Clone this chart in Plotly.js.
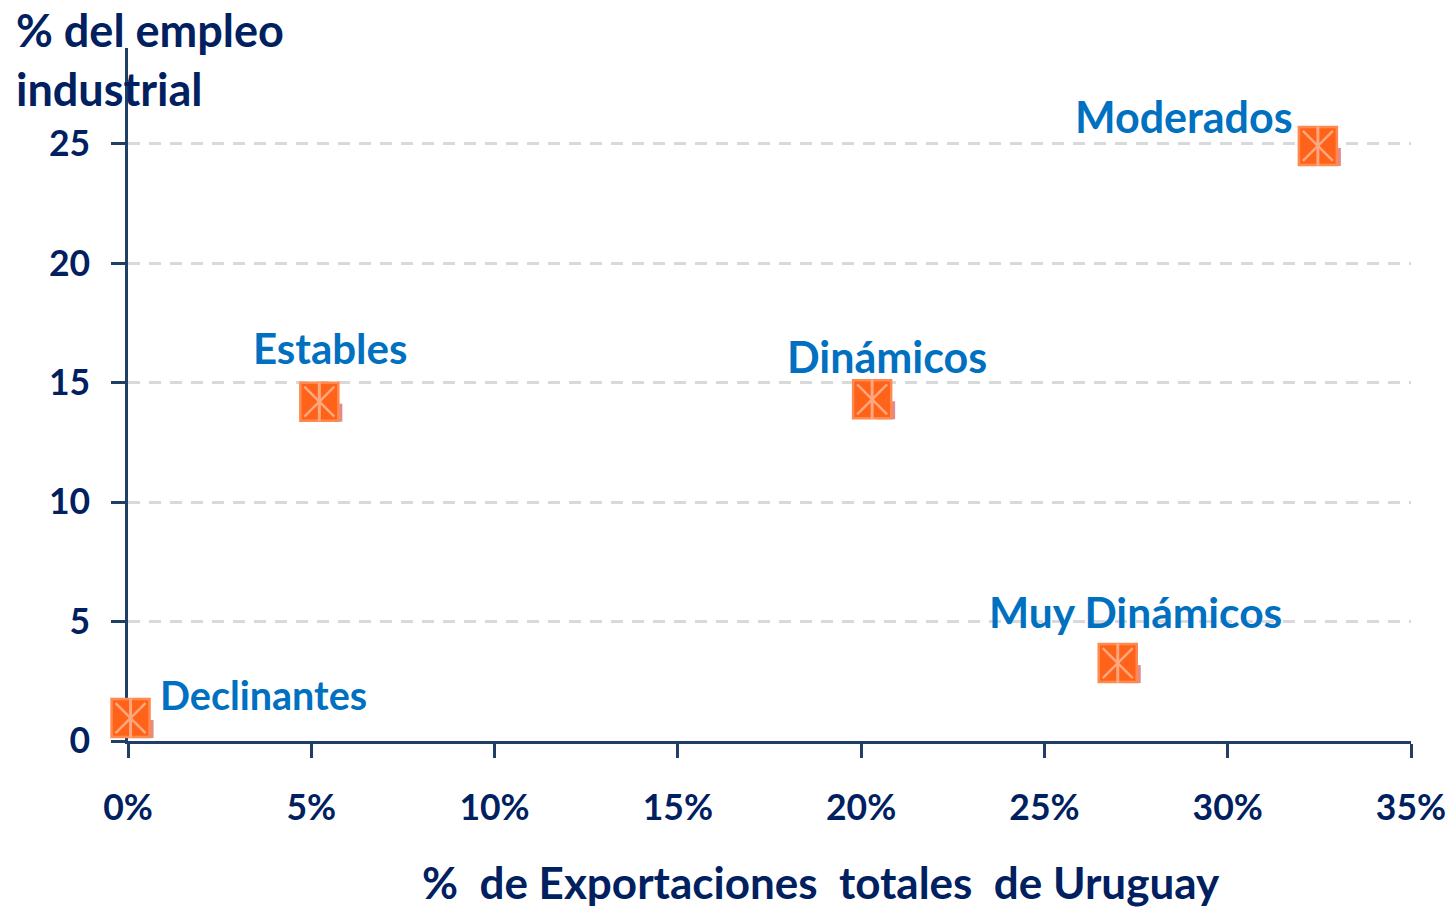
<!DOCTYPE html>
<html><head><meta charset="utf-8">
<script src="https://cdn.plot.ly/plotly-3.0.1.min.js"></script>
<style>html,body{margin:0;padding:0;background:#fff}</style></head>
<body><div id="chart" style="width:1450px;height:907px"></div>
<script>
const categories=["Moderados","Estables","Dinámicos","Muy Dinámicos","Declinantes"];
const exportShare=[32.46,5.22,20.3,27.0,0.07];
const employmentShare=[24.9,14.2,14.3,3.26,0.96];
const xTickVals=[0,5,10,15,20,25,30,35];
const xTickText=["0%","5%","10%","15%","20%","25%","30%","35%"];
const yTickVals=[0,5,10,15,20,25];
const labelShiftX=[-134,11,15,18,133];
const labelShiftY=[29,54,43,52,24];
const labelSize=[43,42,43,42.5,39.5];

const navy="#002060",blue="#0070C0",axisCol="#1F3F66";
const font="Lato, Carlito, 'Open Sans', sans-serif";
const xRange=[0,35],yRange=[0,29];
const pxX=36.67,pxY=23.9;

function mk(xa,ya,symbol,size,color,lineW,lineCol){
  return {type:"scatter",mode:"markers",x:exportShare,y:employmentShare,xaxis:xa,yaxis:ya,
    cliponaxis:false,hoverinfo:"skip",showlegend:false,
    marker:{symbol:symbol,size:size,color:color,line:{width:lineW,color:lineCol}}};
}
const traces=[
  mk("x","y","square",1,"rgba(0,0,0,0)",0,"rgba(0,0,0,0)"),
  mk("x2","y2","square",18,"#E58A8A",0,"#E58A8A"),
  mk("x3","y3","square",38,"#FF6319",2.5,"#FF8A50"),
  mk("x3","y3","line-ns-open",28,"#FFA77E",3,"#FFA77E"),
  mk("x3","y3","x-thin-open",30,"#FFA77E",2.5,"#FFA77E")
];
const hidden={visible:false,overlaying:"x",fixedrange:true};
const layout={
  width:1450,height:907,autosize:false,paper_bgcolor:"#fff",plot_bgcolor:"#fff",
  margin:{l:128,r:39,t:48,b:166},showlegend:false,
  font:{family:font,color:navy},
  xaxis:{range:xRange,tickvals:xTickVals,ticktext:xTickText,tickmode:"array",ticks:"outside",ticklen:14,tickwidth:2.5,
    tickcolor:axisCol,showline:true,linecolor:axisCol,linewidth:2.5,showgrid:false,zeroline:false,layer:"below traces",
    tickfont:{family:font,size:35.5,color:navy,weight:700},ticklabelstandoff:20},
  yaxis:{range:yRange,tickvals:yTickVals,tickmode:"array",ticks:"outside",ticklen:14,tickwidth:2.5,
    tickcolor:axisCol,showline:true,linecolor:axisCol,linewidth:2.5,showgrid:true,gridcolor:"#D9D9D9",gridwidth:3,griddash:"12px,9px",
    zeroline:false,layer:"below traces",tickfont:{family:font,size:35.5,color:navy,weight:700},ticklabelstandoff:14},
  xaxis2:{...hidden,range:[xRange[0]-14/pxX,xRange[1]-14/pxX]},
  yaxis2:{visible:false,overlaying:"y",range:[yRange[0]+11/pxY,yRange[1]+11/pxY]},
  xaxis3:{...hidden,range:xRange},
  yaxis3:{visible:false,overlaying:"y",range:yRange},
  annotations:[
    ...categories.map((c,i)=>({x:exportShare[i],y:employmentShare[i],xref:"x",yref:"y",text:c,showarrow:false,
      xshift:labelShiftX[i],yshift:labelShiftY[i],font:{family:font,size:labelSize[i],color:blue,weight:700}})),
    {xref:"paper",yref:"paper",yanchor:"middle",x:(821-128)/1283,y:(741-882)/693,text:"%  de Exportaciones  totales  de Uruguay",showarrow:false,
      font:{family:font,size:44,color:navy,weight:700}},
    {xref:"paper",yref:"paper",xanchor:"left",yanchor:"middle",x:(14-128)/1283,y:(741-59)/693,align:"left",text:"% del empleo<br>industrial",showarrow:false,
      font:{family:font,size:45,color:navy,weight:700}}
  ]
};
Plotly.newPlot("chart",traces,layout,{displayModeBar:false,responsive:false});
</script></body></html>
